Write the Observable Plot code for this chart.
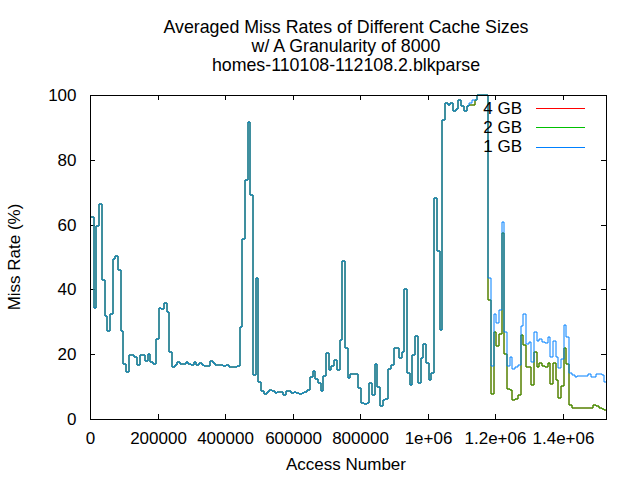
<!DOCTYPE html>
<html><head><meta charset="utf-8">
<script src="https://cdn.jsdelivr.net/npm/d3@7"></script>
<script src="https://cdn.jsdelivr.net/npm/@observablehq/plot@0.6"></script>
<style>
body{margin:0;background:#fff;}
#wrap{position:relative;width:640px;height:480px;font-family:"Liberation Sans",Arial,sans-serif;font-size:17px;color:#000;overflow:hidden;}
.t{position:absolute;white-space:nowrap;line-height:19px;}
.leg{position:absolute;height:1px;}
</style></head><body><div id="wrap"></div>
<script>
// ---- data ----
const titleLines = ["Averaged Miss Rates of Different Cache Sizes", "w/ A Granularity of 8000", "homes-110108-112108.2.blkparse"];
const xLabel = "Access Number";
const yLabel = "Miss Rate (%)";
const granularity = 8000;
const xTickValues = [0, 200000, 400000, 600000, 800000, 1000000, 1200000, 1400000];
const xTickLabels = ["0", "200000", "400000", "600000", "800000", "1e+06", "1.2e+06", "1.4e+06"];
const yTickValues = [0, 20, 40, 60, 80, 100];
const yTickLabels = ["0", "20", "40", "60", "80", "100"];
const seriesNames = ["4 GB", "2 GB", "1 GB"];
const seriesColors = ["#ff0000", "#00c000", "#0080ff"];

const miss1GB = [
62.2,34.2,59.5,66.3,42.8,31.7,27.2,32.4,49.3,50.3,
45.9,27.2,16.9,14.4,19.7,19.7,19.0,16.6,19.7,19.7,
17.9,20.0,17.6,16.9,24.7,34.2,33.8,35.7,32.9,20.6,
16.0,16.6,17.5,16.9,16.9,17.5,16.9,16.6,17.5,16.6,
17.2,16.6,16.3,16.3,17.8,17.2,16.6,16.6,16.6,16.3,
16.6,16.0,16.0,16.0,16.3,28.3,55.6,73.8,91.6,69.1,
13.5,43.4,11.4,8.7,7.8,8.2,8.8,8.6,8.0,8.2,
8.2,7.3,8.5,8.5,8.0,8.2,7.9,7.7,7.9,8.2,
8.8,12.9,14.7,12.2,11.0,8.5,13.2,20.3,15.0,16.3,
18.1,15.0,24.4,48.7,21.9,12.6,13.8,13.8,13.8,9.5,
4.8,4.5,4.8,11.0,7.3,16.9,9.8,3.9,5.8,6.1,
15.3,16.6,21.9,21.9,18.7,20.6,40.0,14.1,10.4,19.9,
25.5,11.0,18.7,23.0,17.2,12.1,14.1,68.1,51.7,27.4,
92.2,97.4,97.0,97.4,95.1,95.6,98.4,96.5,95.1,96.7,
97.4,98.5,98.5,100,100,100,100,43.6,16.5,32.5,
29.5,33.6,60.7,27.0,16.5,19.2,15.3,15.9,16.6,28.7,
32.3,23.0,23.9,17.5,26.7,24.2,24.7,23.7,23.4,25.2,
19.2,24.2,19.2,15.6,18.6,28.9,25.4,14.1,13.6,13.0,
13.3,13.3,13.3,13.3,13.8,13.1,12.9,13.8,13.8,13.6,
11.3];

const miss2GB = [
62.2,34.2,59.5,66.3,42.8,31.7,27.2,32.4,49.3,50.3,
45.9,27.2,16.9,14.4,19.7,19.7,19.0,16.6,19.7,19.7,
17.9,20.0,17.6,16.9,24.7,34.2,33.8,35.7,32.9,20.6,
16.0,16.6,17.5,16.9,16.9,17.5,16.9,16.6,17.5,16.6,
17.2,16.6,16.3,16.3,17.8,17.2,16.6,16.6,16.6,16.3,
16.6,16.0,16.0,16.0,16.3,28.3,55.6,73.8,91.6,69.1,
13.5,43.4,11.4,8.7,7.8,8.2,8.8,8.6,8.0,8.2,
8.2,7.3,8.5,8.5,8.0,8.2,7.9,7.7,7.9,8.2,
8.8,12.9,14.7,12.2,11.0,8.5,13.2,20.3,15.0,16.3,
18.1,15.0,24.4,48.7,21.9,12.6,13.8,13.8,13.8,9.5,
4.8,4.5,4.8,11.0,7.3,16.9,9.8,3.9,5.8,6.1,
15.3,16.6,21.9,21.9,18.7,20.6,40.0,14.1,10.4,19.9,
25.5,11.0,18.7,23.0,17.2,12.1,14.1,68.1,51.7,27.4,
92.2,97.4,97.0,97.4,95.1,95.6,98.4,96.5,95.1,96.7,
96.8,96.8,98.5,100,100,100,100,36.6,7.6,26.7,
22.6,26.1,57.5,20.0,9.3,9.0,5.9,6.2,7.3,25.8,
22.8,15.9,15.9,10.4,20.7,15.9,17.4,16.4,15.9,17.2,
10.7,17.2,12.0,6.4,10.2,21.8,16.9,4.3,3.3,3.3,
3.3,3.3,3.3,3.3,3.3,3.3,4.3,4.0,3.3,3.1,
2.8];

const miss4GB = [
62.2,34.2,59.5,66.3,42.8,31.7,27.2,32.4,49.3,50.3,
45.9,27.2,16.9,14.4,19.7,19.7,19.0,16.6,19.7,19.7,
17.9,20.0,17.6,16.9,24.7,34.2,33.8,35.7,32.9,20.6,
16.0,16.6,17.5,16.9,16.9,17.5,16.9,16.6,17.5,16.6,
17.2,16.6,16.3,16.3,17.8,17.2,16.6,16.6,16.6,16.3,
16.6,16.0,16.0,16.0,16.3,28.3,55.6,73.8,91.6,69.1,
13.5,43.4,11.4,8.7,7.8,8.2,8.8,8.6,8.0,8.2,
8.2,7.3,8.5,8.5,8.0,8.2,7.9,7.7,7.9,8.2,
8.8,12.9,14.7,12.2,11.0,8.5,13.2,20.3,15.0,16.3,
18.1,15.0,24.4,48.7,21.9,12.6,13.8,13.8,13.8,9.5,
4.8,4.5,4.8,11.0,7.3,16.9,9.8,3.9,5.8,6.1,
15.3,16.6,21.9,21.9,18.7,20.6,40.0,14.1,10.4,19.9,
25.5,11.0,18.7,23.0,17.2,12.1,14.1,68.1,51.7,27.4,
92.2,97.4,97.0,97.4,95.1,95.6,98.4,96.5,95.1,96.7,
96.8,96.8,98.5,100,100,100,100,36.6,7.6,26.7,
22.6,26.1,57.5,20.0,9.3,9.0,5.9,6.2,7.3,25.8,
22.8,15.9,15.9,10.4,20.7,15.9,17.4,16.4,15.9,17.2,
10.7,17.2,12.0,6.4,10.2,21.8,16.9,4.3,3.3,3.3,
3.3,3.3,3.3,3.3,3.3,3.3,4.3,4.0,3.3,3.1,
2.8];

// ---- build table ----
const seriesValues = [miss4GB, miss2GB, miss1GB];
const rows = [];
seriesValues.forEach((vals, s) => {
  vals.forEach((v, i) => rows.push({series: seriesNames[s], x: i * granularity, y: v}));
  rows.push({series: seriesNames[s], x: vals.length * granularity, y: vals[vals.length - 1]});
});
const xEnd = miss1GB.length * granularity;

// ---- layout ----
const W = 640, H = 480, mL = 90, mR = 34, mT = 95, mB = 61;
const plotW = W - mL - mR, plotH = H - mT - mB;
const tickLen = 5;
const yTickD = 100 * tickLen / plotH;
const xTickD = xEnd * tickLen / plotW;

const chart = Plot.plot({
  width: W, height: H,
  marginLeft: mL, marginRight: mR, marginTop: mT, marginBottom: mB,
  style: {fontFamily: '"Liberation Sans", Arial, sans-serif', fontSize: "17px", color: "#000", background: "transparent", overflow: "visible"},
  x: {domain: [0, xEnd], round: true, ticks: xTickValues, tickSize: 0, tickPadding: 12, label: null,
      tickFormat: d => xTickLabels[xTickValues.indexOf(d)]},
  y: {domain: [0, 100], round: true, ticks: yTickValues, tickSize: 0, tickPadding: 14, label: null,
      tickFormat: d => yTickLabels[yTickValues.indexOf(d)]},
  marks: [
    Plot.ruleX(xTickValues, {x: d => d, y1: 0, y2: yTickD, stroke: "#000", shapeRendering: "crispEdges"}),
    Plot.ruleX(xTickValues, {x: d => d, y1: 100 - yTickD, y2: 100, stroke: "#000", shapeRendering: "crispEdges"}),
    Plot.ruleY(yTickValues, {y: d => d, x1: 0, x2: xTickD, stroke: "#000", shapeRendering: "crispEdges"}),
    Plot.ruleY(yTickValues, {y: d => d, x1: xEnd - xTickD, x2: xEnd, stroke: "#000", shapeRendering: "crispEdges"}),
    ...seriesNames.map((name, s) => Plot.line(rows.filter(r => r.series === name), {
      x: "x", y: "y", curve: "step-after", stroke: seriesColors[s], strokeWidth: 1, dx: 0.5, dy: -0.5
    })),
    Plot.frame({stroke: "#000", shapeRendering: "crispEdges"})
  ]
});

const wrap = document.getElementById("wrap");
chart.style.position = "absolute";
chart.style.left = "0px";
chart.style.top = "0px";
wrap.appendChild(chart);

function addText(txt, css) {
  const d = document.createElement("div");
  d.className = "t";
  d.textContent = txt;
  Object.assign(d.style, css);
  wrap.appendChild(d);
  return d;
}
titleLines.forEach((line, i) => {
  addText(line, {left: "88px", width: plotW + "px", textAlign: "center", top: (18 + 19 * i) + "px", fontSize: "17.8px"});
});
addText(xLabel, {left: "88px", width: plotW + "px", textAlign: "center", top: "455px"});
addText(yLabel, {left: "14px", top: "257px", transform: "translate(-50%,-50%) rotate(-90deg)"});

seriesNames.forEach((name, s) => {
  const cy = 108 + 19.3 * s;
  addText(name, {right: (W - 522) + "px", top: (cy - 9.5) + "px", textAlign: "right"});
  const l = document.createElement("div");
  l.className = "leg";
  Object.assign(l.style, {left: "536px", width: "49px", top: Math.round(cy) + "px", background: seriesColors[s]});
  wrap.appendChild(l);
});
</script>
</body></html>
